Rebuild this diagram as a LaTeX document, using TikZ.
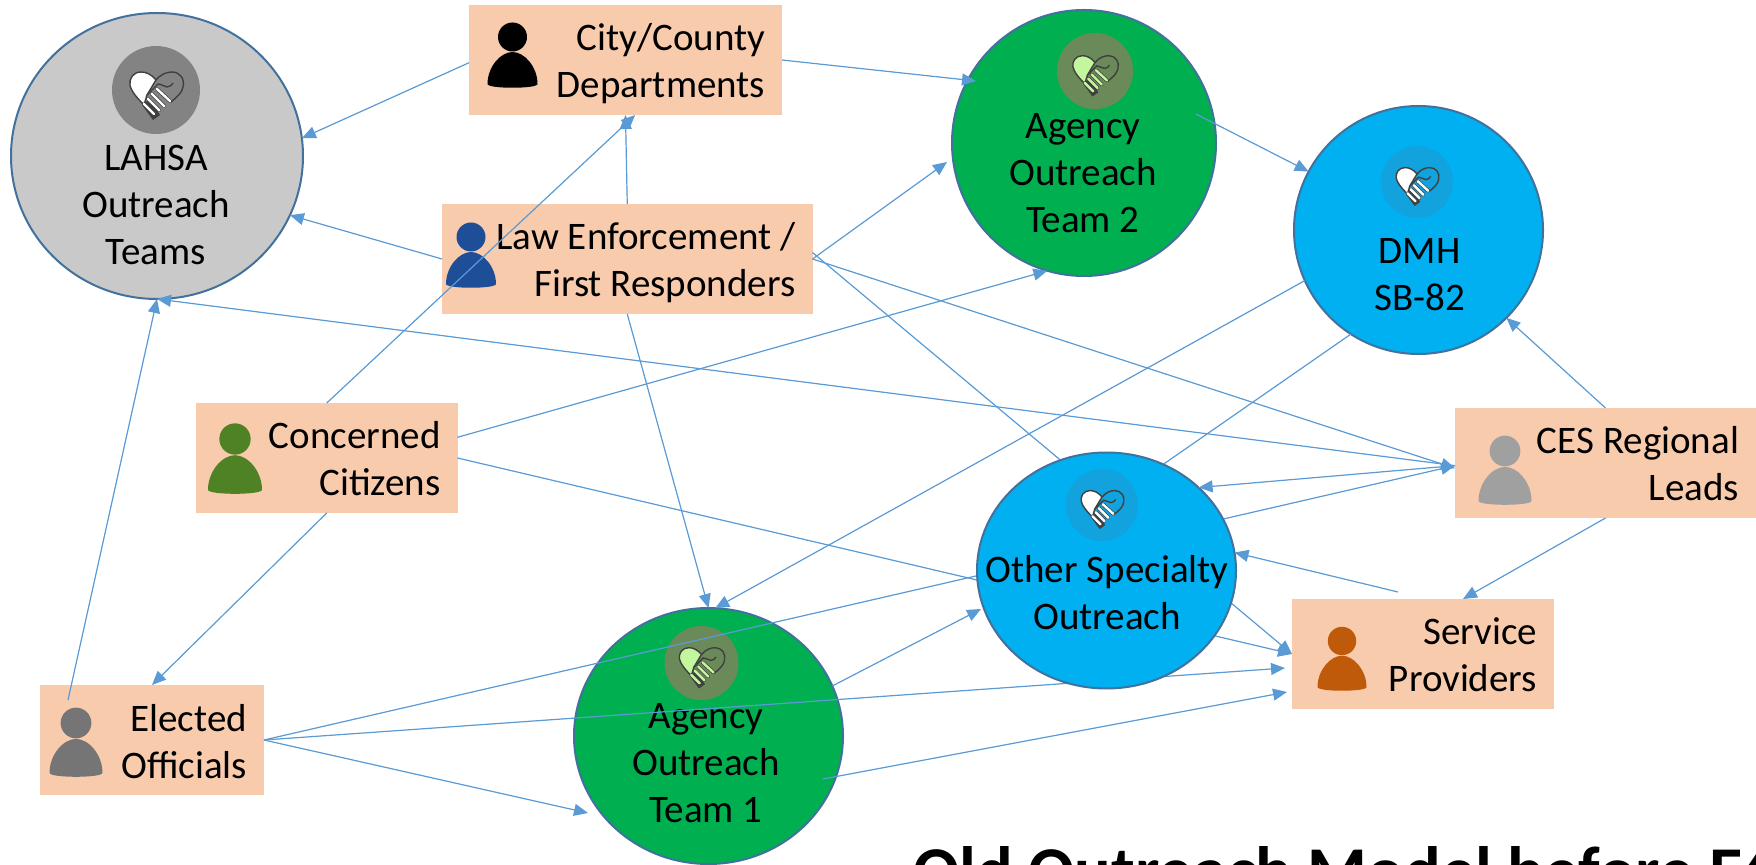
\documentclass[tikz,border=0pt]{standalone}
\usepackage{fontspec}
\setmainfont{Carlito}
\usetikzlibrary{arrows.meta,shapes.geometric}
\definecolor{boxpeach}{HTML}{F8CBAD}
\definecolor{teamgreen}{HTML}{00B050}
\definecolor{teamblue}{HTML}{00B0F0}
\definecolor{teamgray}{HTML}{C9C9C9}
\definecolor{rimblue}{HTML}{41719C}
\definecolor{linkblue}{HTML}{5B9BD5}
\definecolor{handdark}{HTML}{404040}
\definecolor{handlime}{HTML}{C2F79E}
\definecolor{badgegray}{HTML}{838383}
\definecolor{badgegreen}{HTML}{6B8A5A}
\definecolor{badgeblue}{HTML}{12A2DE}
\definecolor{lawblue}{HTML}{1F4E98}
\definecolor{citizengreen}{HTML}{4E8224}
\definecolor{electedgray}{HTML}{757575}
\definecolor{cesgray}{HTML}{A0A0A0}
\definecolor{serviceorange}{HTML}{BF5A0A}
\tikzset{
  team/.style={ellipse,draw=rimblue,line width=1pt,inner sep=0,outer sep=0},
  teamtext/.style={align=center,inner sep=0,font=\fontsize{19.5}{23.5}\selectfont},
  person/.style={fill=boxpeach,align=flush right,inner xsep=8.5pt,inner ysep=0,outer sep=0,text height=23pt,text depth=32pt,text width=#1,font=\fontsize{19.5}{23.5}\selectfont},
  link/.style={-{Triangle[length=7pt,width=6pt]},draw=linkblue,fill=linkblue,line width=.6pt},
}
\newcommand{\PersonIcon}[4]{
  \begin{scope}[shift={(#1,#2)},scale=#3]
    \fill[#4] (0,0) circle (14.5);
    \fill[#4] (-25,47) .. controls (-25,30) and (-12,15) .. (0,15) .. controls (12,15) and (25,30) .. (25,47) .. controls (25,52) and (-25,52) .. (-25,47) -- cycle;
  \end{scope}
}
\newcommand{\HandIcon}[6]{
  \fill[#4] (#1,#2) circle (#3);
  \begin{scope}[shift={(#1,#2+3*#6)},scale=#6]
    \fill[handdark] (-14,12) -- (-3,27) -- (4,22) -- (-6,6) -- cycle;
    \draw[handdark,line width=.7pt,fill=#5] (0,-13) .. controls (-5,-19) and (-10,-21) .. (-15,-21) .. controls (-23,-21) and (-27,-14) .. (-26,-8) .. controls (-25,-2) and (-19,5) .. (-12,12) -- (-9,2) -- cycle;
    \draw[handdark,line width=.7pt] (0,-13) .. controls (5,-19) and (11,-21) .. (16,-21) .. controls (24,-21) and (29,-14) .. (27,-6) .. controls (26,0) and (21,4) .. (15,9);
    \draw[handdark,line width=.7pt] (-9,2) -- (2,-9) .. controls (6,-9) and (8,-6) .. (11,-6) .. controls (14,-6) and (16,-8) .. (17,-10);
    \foreach \sx/\sy/\ex/\ey in {-12/11/-2/21,-8/6/3/17,-4/1/8/13,1/-4/14/8} {
      \draw[handdark,line width=1.9pt,line cap=round] (\sx,\sy) -- (\ex,\ey);
      \draw[#5,line width=1.2pt,line cap=round] (\sx,\sy) -- (\ex,\ey);
    }
  \end{scope}
}
\begin{document}
\begin{tikzpicture}[x=.5pt,y=-.5pt]
  \useasboundingbox (0,0) rectangle (1756,865);
  \node[team,fill=teamgray,minimum width=146pt,minimum height=143pt] (LAHSA) at (157,156) {};
  \node[team,fill=teamgreen,minimum width=132pt,minimum height=133pt] (Team2) at (1084,143) {};
  \node[team,fill=teamgreen,minimum width=134.5pt,minimum height=128pt] (Team1) at (708.5,736) {};
  \node[team,fill=teamblue,minimum width=124.5pt,minimum height=124pt] (DMH) at (1418.5,230) {};
  \HandIcon{156}{90}{44}{badgegray}{white}{1}
  \HandIcon{1095}{71}{38}{badgegreen}{handlime}{.85}
  \HandIcon{701.5}{663}{37}{badgegreen}{handlime}{.85}
  \HandIcon{1417}{182}{36}{badgeblue}{white}{.8}
  \node[teamtext] (LAHSAtext) at (156,205) {LAHSA\\Outreach\\Teams};
  \node[teamtext] (Team2text) at (1083,173) {Agency\\Outreach\\Team 2};
  \node[teamtext] (Team1text) at (706,763) {Agency\\Outreach\\Team 1};
  \node[teamtext] (DMHtext) at (1419.5,274.5) {DMH\\SB-82};
  \node[person=139.5pt] (City) at (625.5,60) {City/County\\Departments};
  \node[person=168.25pt] (Law) at (627.25,259) {Law Enforcement /\\First Responders};
  \node[person=113.75pt] (Citizens) at (326.75,458) {Concerned\\Citizens};
  \node[person=95pt] (Elected) at (152,740) {Elected\\Officials};
  \node[person=133.5pt] (CES) at (1605.5,463) {CES Regional\\Leads};
  \node[person=114pt] (Service) at (1423,654) {Service\\Providers};
  \PersonIcon{512.5}{37}{1}{black}
  \PersonIcon{471}{237}{1}{lawblue}
  \PersonIcon{235}{439}{1.08}{citizengreen}
  \PersonIcon{76}{723}{1.06}{electedgray}
  \PersonIcon{1505}{451}{1.06}{cesgray}
  \PersonIcon{1342}{641}{.98}{serviceorange}
  \coordinate (Team2in) at (976,81);
  \coordinate (Team2out) at (1196,114);
  \coordinate (Team2gap) at (947,162);
  \coordinate (ServiceA) at (1285,668);
  \coordinate (ServiceB) at (1287,692);
  \coordinate (ServiceTop) at (1398,592);
  \coordinate (Team1gap) at (588,813);
  \coordinate (Team1out) at (823,779);
  \coordinate (ElectedTop) at (68,700);
  \coordinate (OtherLeft) at (981,609);
  \coordinate (OtherTop) at (1145,477);
  \draw[link] (City.181) -- (LAHSA.7);
  \draw[link] (Law.west) -- (LAHSA.-24);
  \draw[link] (Law.north) -- (City.south);
  \draw[link] (Citizens.north) -- (City.-80);
  \draw[link] (City.east) -- (Team2in);
  \draw[link] (Team2out) -- (DMH.152);
  \draw[link] (Law.east) -- (Team2gap);
  \draw[link] (Citizens.9) -- (Team2.-106);
  \draw[link] (Law.east) -- (CES.182.3);
  \draw[link] (Law.2) -- (Service.west);
  \draw[link] (Citizens.east) -- (Service.west);
  \draw[link] (Elected.east) -- (ServiceA);
  \draw[link] (Team1out) -- (ServiceB);
  \draw[link] (Elected.east) -- (CES.181.5);
  \draw[link] (Elected.east) -- (Team1gap);
  \draw[link] (ElectedTop) -- (LAHSA.south);
  \draw[link] (Citizens.south) -- (Elected.north);
  \draw[link] (DMH.204) -- (Team1.87);
  \draw[link] (Law.south) -- (Team1.north);
  \draw[link] (Team1.22) -- (OtherLeft);
  \draw[link] (DMH.-123) -- (OtherTop);
  \draw[link] (CES.north) -- (DMH.-45);
  \draw[link] (CES.181) -- (LAHSA.south);
  \draw[link] (CES.south) -- (Service.54);
  \node[team,fill=teamblue,minimum width=129.5pt,minimum height=118pt] (Other) at (1106.5,570.5) {};
  \HandIcon{1102}{505}{36}{badgeblue}{white}{.8}
  \node[teamtext] (Othertext) at (1107,593) {Other Specialty\\Outreach};
  \draw[link] (CES.181) -- (Other.42);
  \draw[link] (ServiceTop) -- (Other.8);
  \node[anchor=base west,inner sep=0,font=\fontsize{34.2}{40}\selectfont\bfseries] (Title) at (913,894) {Old Outreach Model before E6};
\end{tikzpicture}
\end{document}
